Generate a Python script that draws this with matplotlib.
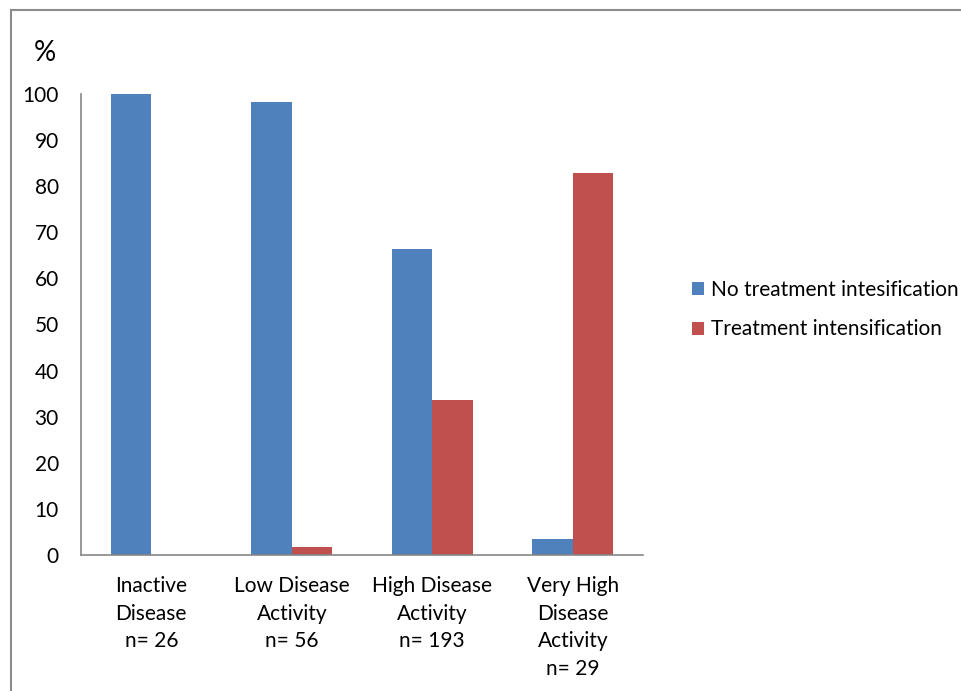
import matplotlib
matplotlib.use("Agg")
import matplotlib.pyplot as plt
import numpy as np

plt.rcParams['font.family'] = ['Lato', 'DejaVu Sans']

categories = ["Inactive\nDisease\nn= 26",
              "Low Disease\nActivity\nn= 56",
              "High Disease\nActivity\nn= 193",
              "Very High\nDisease\nActivity\nn= 29"]
no_intens = [100.0, 98.2, 66.3, 3.4]
intens = [0.0, 1.8, 33.7, 82.8]
series_names = ["No treatment intesification", "Treatment intensification"]
yticks = [0, 10, 20, 30, 40, 50, 60, 70, 80, 90, 100]

blue = "#4F81BD"
red = "#C0504D"

fig = plt.figure(figsize=(9.62, 6.91), dpi=100)
ax = fig.add_axes([0.0842, 0.1968, 0.5842, 0.6672])

x = np.arange(len(categories))
w = 0.29
b1 = ax.bar(x - w / 2, no_intens, w, color=blue, label=series_names[0])
b2 = ax.bar(x + w / 2, intens, w, color=red, label=series_names[1])

ax.set_xlim(-0.5, len(categories) - 0.5)
ax.set_ylim(0, 100)
ax.set_yticks(yticks)
ax.set_xticks(x)
ax.set_xticklabels(categories, fontsize=15, linespacing=1.48)
ax.tick_params(axis='y', length=0, pad=16, labelsize=15)
ax.tick_params(axis='x', length=0, pad=15)

for side in ['top', 'right']:
    ax.spines[side].set_visible(False)
for side in ['left', 'bottom']:
    ax.spines[side].set_color('#868686')
    ax.spines[side].set_linewidth(1.2)

fig.text(0.047, 0.924, "%", fontsize=20, ha='center', va='center')

leg = fig.legend(handles=[b1, b2], loc='center left',
                 bbox_to_anchor=(0.719, 0.552), frameon=False, fontsize=15,
                 handlelength=0.6, handleheight=0.6, handletextpad=0.35,
                 labelspacing=0.95, borderaxespad=0, borderpad=0)

# outer frame on the left and top
fig.add_artist(plt.Line2D([0.011, 0.011], [0, 0.986], color='#8c8c8c', lw=1.5))
fig.add_artist(plt.Line2D([0.011, 1.0], [0.986, 0.986], color='#8c8c8c', lw=1.5))

fig.savefig("out.png", dpi=100)
